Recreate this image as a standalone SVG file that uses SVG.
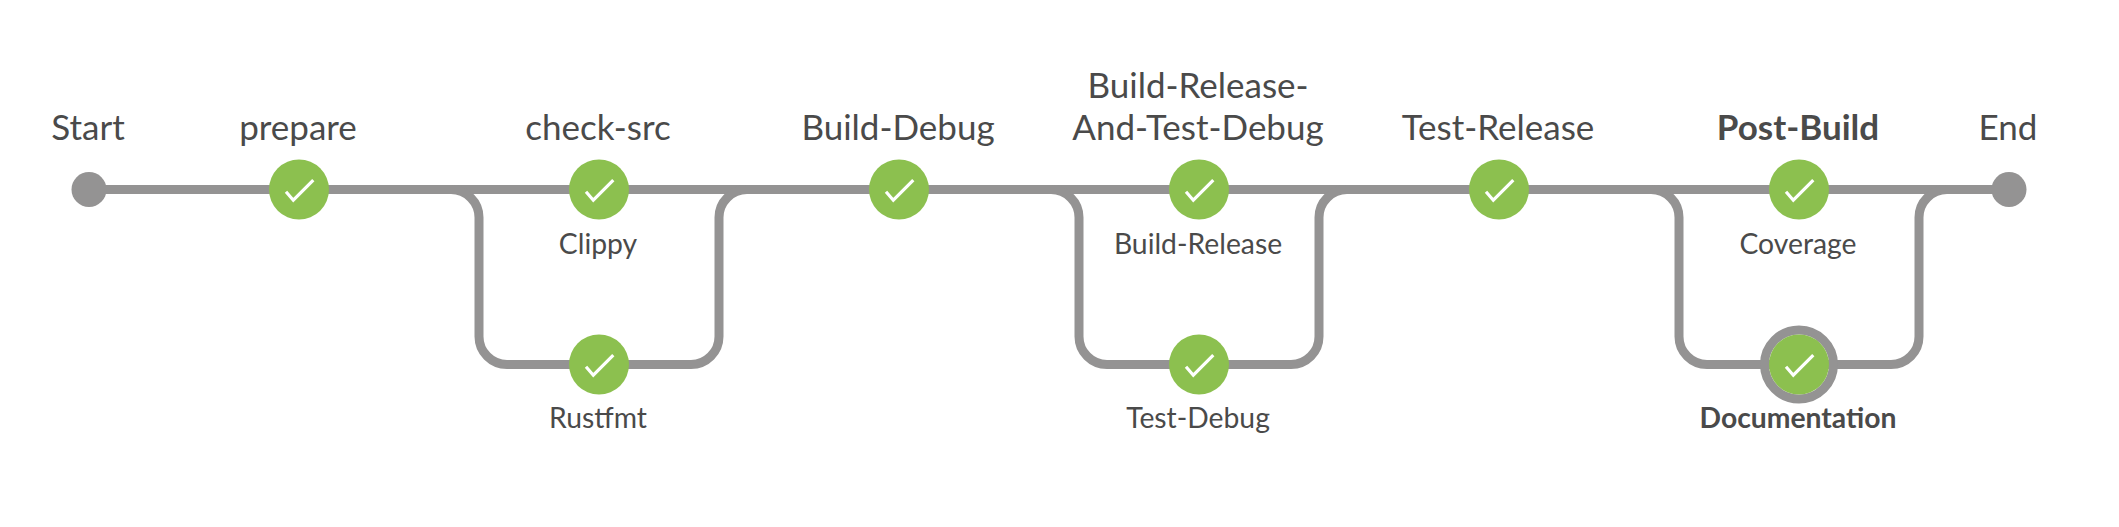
<svg xmlns="http://www.w3.org/2000/svg" width="2119" height="527" viewBox="0 0 2119 527">
<style>
.c{fill:none;stroke:#949393;stroke-width:9}
.t{font-family:Lato,"Open Sans",sans-serif;fill:#4a4a4a;text-anchor:middle}
.big{font-size:35px}
.small{font-size:28.3px}
.b{font-weight:700}
.ok{fill:#8cc04f}
.ck{fill:none;stroke:#fff;stroke-width:3.2}
.end{fill:#949393}
</style>
<defs>
<g id="node"><circle class="ok" r="30"/><path class="ck" d="M-13 2.3L-5.7 10.7L14.3-9.3"/></g>
</defs>
<rect width="2119" height="527" fill="#fff"/>
<g id="connectors">
<path class="c" d="M89 189.5H2009"/>
<path class="c" d="M449 189.5H451A28 28 0 0 1 479 217.5V336.5A28 28 0 0 0 507 364.5H691A28 28 0 0 0 719 336.5V217.5A28 28 0 0 1 747 189.5H749"/>
<path class="c" d="M1049 189.5H1051A28 28 0 0 1 1079 217.5V336.5A28 28 0 0 0 1107 364.5H1291A28 28 0 0 0 1319 336.5V217.5A28 28 0 0 1 1347 189.5H1349"/>
<path class="c" d="M1649 189.5H1651A28 28 0 0 1 1679 217.5V336.5A28 28 0 0 0 1707 364.5H1891A28 28 0 0 0 1919 336.5V217.5A28 28 0 0 1 1947 189.5H1949"/>
</g>
<g id="start"><circle class="end" cx="89" cy="189.5" r="17.5"/><text class="t big" x="88" y="140">Start</text></g>
<g id="prepare"><use href="#node" x="299" y="189.5"/><text class="t big" x="298" y="140">prepare</text></g>
<g id="check-src"><use href="#node" x="599" y="189.5"/><text class="t big" x="598" y="140">check-src</text></g>
<g id="clippy"><text class="t small" x="598" y="253.5">Clippy</text></g>
<g id="rustfmt"><use href="#node" x="599" y="364.5"/><text class="t small" x="598" y="428">Rustfmt</text></g>
<g id="build-debug"><use href="#node" x="899" y="189.5"/><text class="t big" x="898" y="140">Build-Debug</text></g>
<g id="build-release-and-test-debug"><use href="#node" x="1199" y="189.5"/><text class="t big" x="1198" y="98">Build-Release-</text><text class="t big" x="1198" y="140">And-Test-Debug</text></g>
<g id="build-release"><text class="t small" x="1198" y="253.5">Build-Release</text></g>
<g id="test-debug"><use href="#node" x="1199" y="364.5"/><text class="t small" x="1198" y="428">Test-Debug</text></g>
<g id="test-release"><use href="#node" x="1499" y="189.5"/><text class="t big" x="1498" y="140">Test-Release</text></g>
<g id="post-build"><use href="#node" x="1799" y="189.5"/><text class="t big b" x="1798" y="140">Post-Build</text></g>
<g id="coverage"><text class="t small" x="1798" y="253.5">Coverage</text></g>
<g id="documentation"><circle cx="1799" cy="364.5" r="34.5" fill="none" stroke="#949393" stroke-width="9"/><use href="#node" x="1799" y="364.5"/><text class="t small b" x="1798" y="428">Documentation</text></g>
<g id="end"><circle class="end" cx="2009" cy="189.5" r="17.5"/><text class="t big" x="2008" y="140">End</text></g>
</svg>
